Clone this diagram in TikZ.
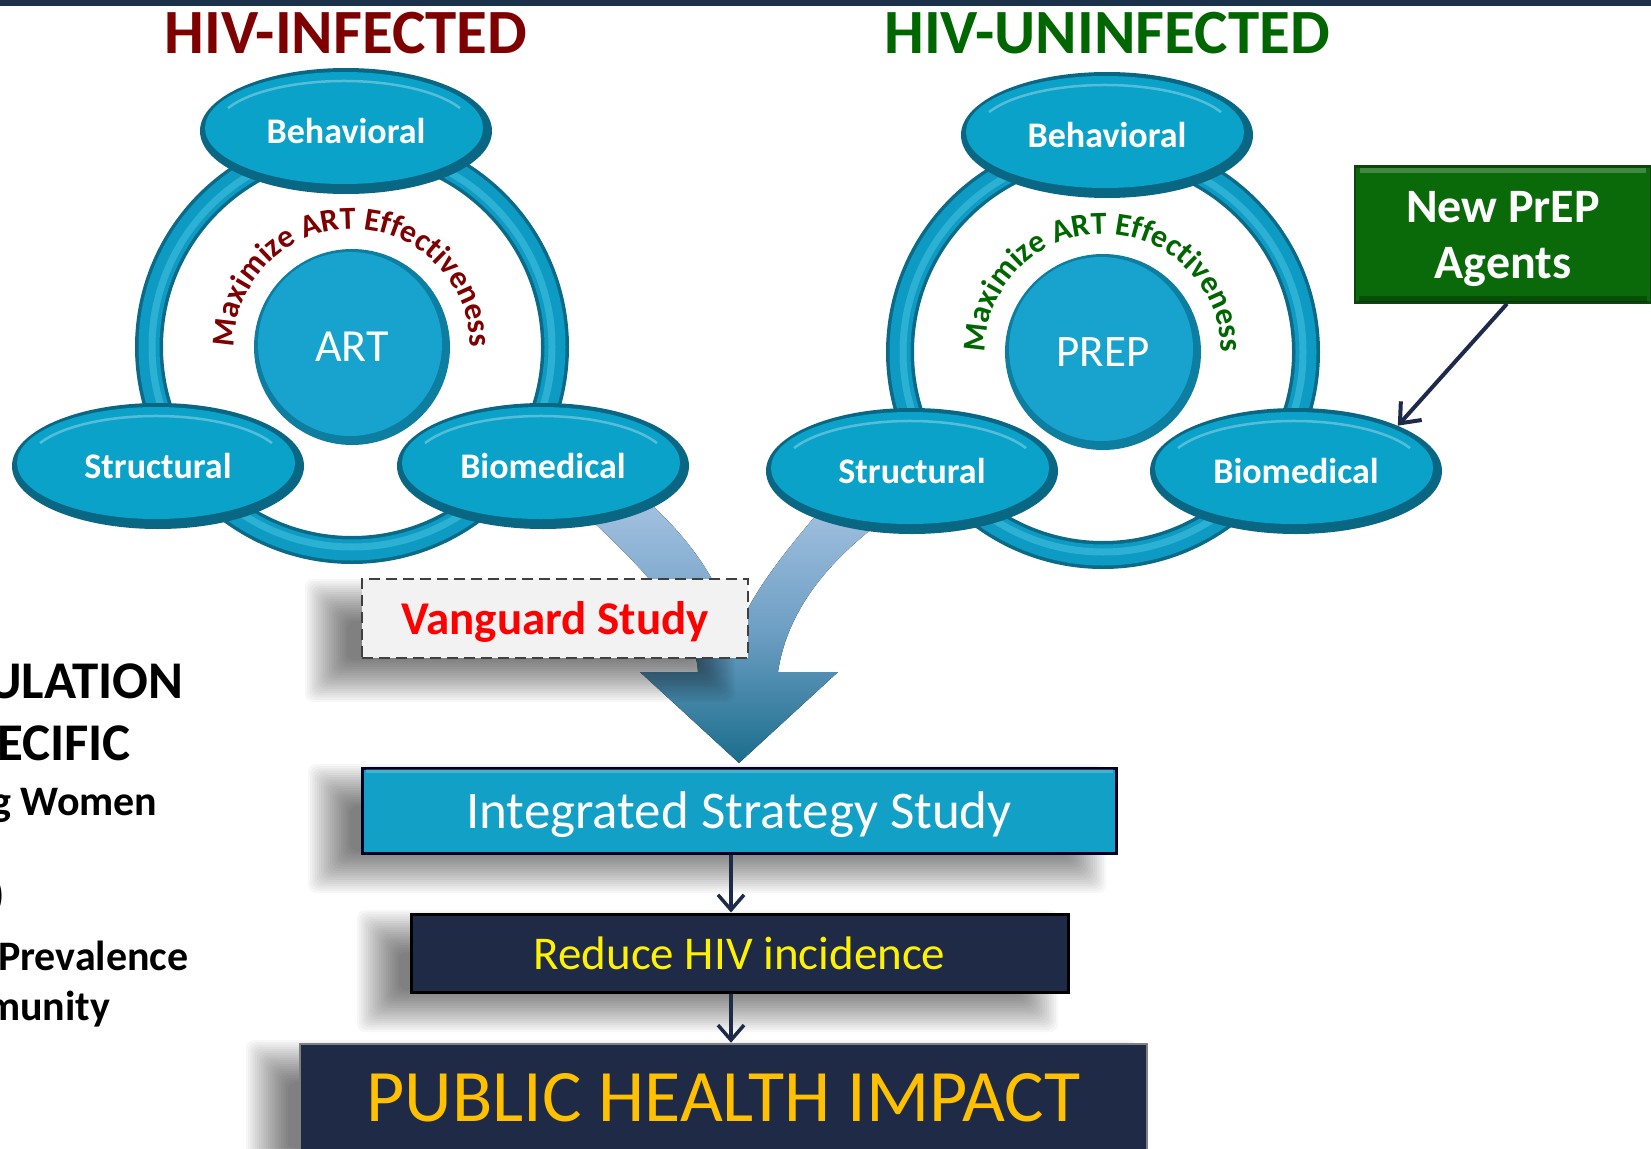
\documentclass[tikz,border=0pt]{standalone}
\usepackage{fontspec}
\setmainfont{Carlito}
\usetikzlibrary{shapes.geometric,arrows.meta,decorations.text,calc}
\definecolor{navybar}{HTML}{1B3149}
\definecolor{artred}{HTML}{7F0000}
\definecolor{prepgreen}{HTML}{006600}
\definecolor{ovmain}{HTML}{0BA2CA}
\definecolor{ovdark}{HTML}{0A6784}
\definecolor{ringdark}{HTML}{0A6A88}
\definecolor{ringmain}{HTML}{0E9BC3}
\definecolor{ringlight}{HTML}{45C3E3}
\definecolor{circdark}{HTML}{0D7DA0}
\definecolor{circmain}{HTML}{17A3CE}
\definecolor{navybox}{HTML}{1F2A47}
\definecolor{flowline}{HTML}{1E2A4A}
\definecolor{integfill}{HTML}{12A0C6}
\definecolor{vgred}{HTML}{FF0000}
\definecolor{pubgold}{HTML}{FFC000}
\definecolor{armtop}{HTML}{A6C3E2}
\definecolor{armmid}{HTML}{6E9FC4}
\definecolor{armbot}{HTML}{1B6D8C}
\definecolor{agentgreen}{HTML}{0A6A0A}
\definecolor{agentedge}{HTML}{0B460B}
\newcommand\mkoval[4]{%
  \fill[ovdark] (#2,#3) ellipse[x radius=146, y radius=63];
  \fill[ovmain] (#2-2,#3-3) ellipse[x radius=139, y radius=56];
  \draw[white, opacity=.3, line width=2.5] (#2-2,#3-3) ++(205:128 and 47) arc[start angle=205, end angle=335, x radius=128, y radius=47];
  \node[ovaltext] (#1) at (#2,#3) {#4};
}
\newcommand\mkcluster[4]{% center name, x, y, colour
  \coordinate (#1) at (#2,#3);
  \draw[line width=28, ringdark] (#1) circle[radius=203];
  \draw[line width=21, ringmain] (#1) circle[radius=203];
  \draw[line width=7, ringlight, opacity=.55] (#1) circle[radius=200];
  \fill[circdark] (#1) circle[radius=98];
  \fill[circmain] ($(#1)+(-2,-3)$) circle[radius=92];
  \path[decorate, decoration={text along path, text align=center,
      text={|\fontsize{32}{32}\selectfont\bfseries\color{#4}|Maximize ART Effectiveness}}]
    (#1) ++(180:118) arc[start angle=180, end angle=360, radius=118];
}
\newcommand\softshadow[4]{% x1 y1 x2 y2 of the shadow core
  \foreach \k in {0,...,19}{%
    \pgfmathsetmacro\ee{22-2.2*\k}%
    \fill[black, opacity=.032, rounded corners=8pt] (#1-\ee,#2-\ee) rectangle (#3+\ee,#4+\ee);
  }%
}
\begin{document}
\begin{tikzpicture}[x=1pt, y=-1pt,
  ovaltext/.style={shape=ellipse, minimum width=292, minimum height=126, inner sep=0,
    text=white, font=\fontsize{36}{36}\selectfont\bfseries},
  circtext/.style={shape=circle, minimum size=196, inner sep=0, text=white,
    font=\fontsize{46}{46}\selectfont},
  title/.style={anchor=base, inner sep=0, font=\fontsize{63}{63}\selectfont\bfseries},
  sidebig/.style={anchor=base west, inner sep=0, font=\fontsize{53}{53}\selectfont\bfseries},
  sidesmall/.style={anchor=base west, inner sep=0, font=\fontsize{42}{42}\selectfont\bfseries},
  vgbox/.style={draw=black!75, dashed, dash pattern=on 11pt off 6pt, line width=2.5, fill=black!5,
    text=vgred, font=\fontsize{47}{47}\selectfont\bfseries, minimum width=386, minimum height=79,
    inner sep=0, text depth=0pt},
  integbox/.style={draw=black!85!blue, line width=3, fill=integfill, text=white,
    font=\fontsize{53}{53}\selectfont, minimum width=754, minimum height=85, inner sep=0, text depth=0pt},
  reducebox/.style={draw=black, line width=3, fill=navybox, text=yellow,
    font=\fontsize{47}{47}\selectfont, minimum width=657, minimum height=78, inner sep=0, text depth=0pt},
  pubbox/.style={draw=black!50, line width=2.5, fill=navybox, text=pubgold,
    font=\fontsize{74}{74}\selectfont, minimum width=847, minimum height=108, inner sep=0},
  agentbox/.style={draw=agentedge, line width=2.5, fill=agentgreen, text=white, align=center,
    font=\fontsize{48}{56}\selectfont\bfseries, minimum width=296, minimum height=136, inner sep=0, text depth=0pt},
  flow/.style={draw=flowline, line width=3.5,
    -{Straight Barb[length=15pt, width=26pt, line width=3.5pt]}}
]
\useasboundingbox (0,0) rectangle (1651,1148);
\clip (0,0) rectangle (1651,1148);
\fill[white] (0,0) rectangle (1651,1148);
\fill[navybar] (0,0) rectangle (1651,6);

% titles
\node[title, text=artred] (tinf) at (346,54) {HIV-INFECTED};
\node[title, text=prepgreen] (tuninf) at (1107,54) {HIV-UNINFECTED};

% rings, circles, curved texts
\mkcluster{cl}{352}{347}{artred}
\mkcluster{cr}{1103}{352}{prepgreen}
\node[circtext] (art) at (cl) {ART};
\node[circtext, font=\fontsize{45}{45}\selectfont] (prep) at (cr) {PREP};

% merging curved arrow
\fill[top color=armtop, bottom color=armbot, middle color=armmid]
  (575,505) .. controls (640,565) and (695,620) .. (698,672)
  -- (640,672) -- (739,763) -- (838,672) -- (778,672)
  .. controls (788,605) and (835,555) .. (890,515)
  -- (825,505)
  .. controls (790,545) and (745,600) .. (735,640)
  .. controls (728,600) and (700,545) .. (640,495)
  -- cycle;

% ovals
\mkoval{behL}{346}{131}{Behavioral}
\mkoval{strL}{158}{466}{Structural}
\mkoval{bioL}{543}{466}{Biomedical}
\mkoval{behR}{1107}{135}{Behavioral}
\mkoval{strR}{912}{471}{Structural}
\mkoval{bioR}{1296}{471}{Biomedical}

% New PrEP agents
\node[agentbox] (agents) at (1503,234.5) {New PrEP\\Agents};
\draw[white, opacity=.22, line width=5] ([xshift=6pt,yshift=-5pt]agents.north west) -- ([xshift=-6pt,yshift=-5pt]agents.north east);
\draw[black, opacity=.25, line width=6] ([xshift=5pt,yshift=5pt]agents.south west) -- ([xshift=-5pt,yshift=5pt]agents.south east);
\draw[flow, line width=4, -{Straight Barb[length=17pt, width=28pt, line width=4pt]}] ([xshift=4pt]agents.south) -- (bioR.24);

% soft shadows
\softshadow{327}{601}{713}{680}
\softshadow{330}{786}{1084}{871}
\softshadow{379}{932}{1036}{1010}
\softshadow{268}{1062}{1115}{1170}

% flow boxes
\node[vgbox] (vg) at (555,618.5) {Vanguard Study};
\node[integbox] (integ) at (739,810.5) {Integrated Strategy Study};
\draw[white, opacity=.2, line width=4] ([xshift=5pt,yshift=-4.5pt]integ.north west) -- ([xshift=-5pt,yshift=-4.5pt]integ.north east);
\node[reducebox] (reduce) at (739.5,953) {Reduce HIV incidence};
\node[pubbox] (pub) at (723.5,1098) {PUBLIC HEALTH IMPACT};
\draw[flow] ([xshift=-8pt]integ.south) -- ([xshift=-8.5pt]reduce.north);
\draw[flow] ([xshift=-8.5pt]reduce.south) -- ([xshift=7.5pt]pub.north);

% clipped side text
\node[sidebig] (s1) at (-13,698) {ULATION};
\node[sidebig] (s2) at (-3,760) {ECIFIC};
\node[sidesmall] (s3) at (-9,815) {g Women};
\node[sidesmall, anchor=base east] (s4) at (5,908) {)};
\node[sidesmall] (s5) at (-2,970) {Prevalence};
\node[sidesmall] (s6) at (-14,1020) {munity};
\end{tikzpicture}
\end{document}
